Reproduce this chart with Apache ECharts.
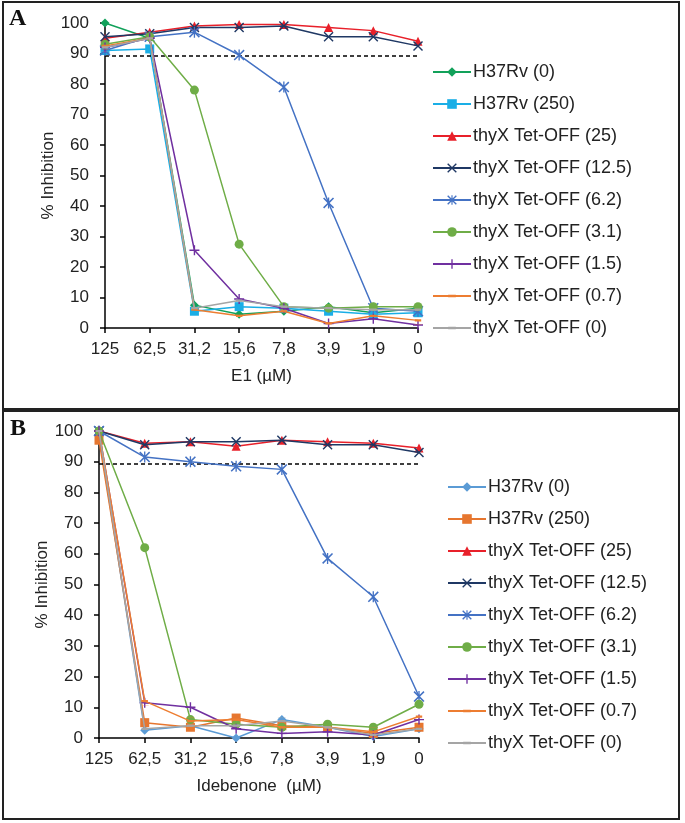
<!DOCTYPE html>
<html><head><meta charset="utf-8">
<script src="https://cdn.jsdelivr.net/npm/echarts@6/dist/echarts.min.js"></script>
<style>
html,body{margin:0;padding:0;background:#fff;width:685px;height:823px;overflow:hidden}
#a{position:absolute;left:0;top:0;width:685px;height:410px}
#b{position:absolute;left:0;top:410px;width:685px;height:413px}
</style></head><body><div id="a"></div><div id="b"></div>
<script>
// ---------- DATA ----------
const categories = ['125', '62,5', '31,2', '15,6', '7,8', '3,9', '1,9', '0'];
const yTicks = [0, 10, 20, 30, 40, 50, 60, 70, 80, 90, 100];
const seriesNames = ['H37Rv (0)', 'H37Rv (250)', 'thyX Tet-OFF (25)', 'thyX Tet-OFF (12.5)',
  'thyX Tet-OFF (6.2)', 'thyX Tet-OFF (3.1)', 'thyX Tet-OFF (1.5)', 'thyX Tet-OFF (0.7)', 'thyX Tet-OFF (0)'];
const thresholdA = 89.3;
const thresholdB = 89.3;

// Panel A : E1 (µM)
const A_h37rv_0    = [100, 95, 7.5, 4.5, 5.5, 7, 5, 6.5];
const A_h37rv_250  = [91, 91.5, 5.5, 7, 6.5, 5.5, 4.5, 5];
const A_tet_25     = [95, 97, 99, 99.5, 99.5, 98.5, 97.5, 94];
const A_tet_12_5   = [95.5, 96.5, 98.5, 98.5, 99, 95.5, 95.5, 92.5];
const A_tet_6_2    = [91, 95.5, 97, 89.5, 79, 41, 6.5, 5.5];
const A_tet_3_1    = [93, 95.5, 78, 27.5, 7, 6.5, 7, 7];
const A_tet_1_5    = [92, 95, 25.5, 9.5, 6.5, 1.5, 3, 1];
const A_tet_0_7    = [92.5, 95, 6, 4, 5.5, 1.5, 4, 2.5];
const A_tet_0      = [92, 95, 6.5, 9, 7, 6.5, 6, 6];

// Panel B : Idebenone (µM)
const B_h37rv_0    = [99, 2.5, 4, 0, 6, 3.5, 0.5, 3];
const B_h37rv_250  = [97, 5, 3.5, 6.5, 4, 3.5, 1.5, 3.5];
const B_tet_25     = [100, 96, 96.5, 95, 97, 96.5, 96, 94.5];
const B_tet_12_5   = [100, 95.5, 96.5, 96.5, 97, 95.5, 95.5, 93];
const B_tet_6_2    = [100, 91.5, 90, 88.5, 87.5, 58.5, 46, 13.5];
const B_tet_3_1    = [100, 62, 6, 4.5, 3.5, 4.5, 3.5, 11];
const B_tet_1_5    = [100, 11.5, 10, 3, 1.5, 2, 1, 6];
const B_tet_0_7    = [100, 12, 5.5, 6, 3.5, 3.5, 2, 7];
const B_tet_0      = [100, 3, 4, 4, 5.5, 3.5, 1, 3];

// ---------- STYLE ----------
const SYM = {
  x: 'path://M0,1L1,0L5,4L9,0L10,1L6,5L10,9L9,10L5,6L1,10L0,9L4,5Z',
  star: 'path://M0,1L1,0L5,4L9,0L10,1L6,5L10,9L9,10L5,6L1,10L0,9L4,5Z M4.4,0L5.6,0L5.6,10L4.4,10Z',
  plus: 'path://M4.3,0H5.7V4.3H10V5.7H5.7V10H4.3V5.7H0V4.3H4.3Z',
  dash: 'path://M0,0H10V0.05H0Z M1,3.6H9V6.4H1Z M0,9.95H10V10H0Z'
};
const symbols = ['diamond', 'rect', 'triangle', SYM.x, SYM.star, 'circle', SYM.plus, SYM.dash, SYM.dash];
const symSizes = [9, 9, 9, 10, 11, 9, 10, 8, 8];
const colorsA = ['#12A15A', '#1AAEE6', '#E8202A', '#1F3864', '#4472C4', '#6FAD47', '#7030A0', '#ED7D31', '#A5A5A5'];
const colorsB = ['#5B9BD5', '#E6762F', '#E8202A', '#1F3864', '#4472C4', '#6FAD47', '#7030A0', '#ED7D31', '#A5A5A5'];
const FONT = '"Liberation Sans", Arial, sans-serif';

function build(el, cfg) {
  const chart = echarts.init(el, null, {renderer: 'canvas'});
  const series = cfg.data.map((d, i) => ({
    name: seriesNames[i], type: 'line', data: d,
    symbol: symbols[i], symbolSize: symSizes[i],
    itemStyle: {color: cfg.colors[i]},
    lineStyle: {color: cfg.colors[i], width: 1.5},
    emphasis: {disabled: true}, animation: false, z: 2 + i,
    markLine: i === 0 ? {
      silent: true, symbol: 'none', label: {show: false}, animation: false,
      lineStyle: {color: '#000', type: [4, 3], width: 1.5},
      data: [{yAxis: cfg.threshold}]
    } : undefined
  }));
  chart.setOption({
    animation: false,
    backgroundColor: '#fff',
    graphic: [
      {type: 'rect', shape: cfg.frame, style: {fill: 'none', stroke: '#222', lineWidth: 2}},
      {type: 'text', left: cfg.letterPos[0], top: cfg.letterPos[1],
       style: {text: cfg.letter, font: 'bold 24px "Liberation Serif", "Times New Roman", serif', fill: '#111'}}
    ],
    grid: {left: cfg.grid[0], top: cfg.grid[1], width: cfg.grid[2], height: cfg.grid[3], containLabel: false},
    legend: {
      orient: 'vertical', left: cfg.legendPos[0], top: cfg.legendPos[1], padding: 0,
      itemWidth: 38, itemHeight: 12, itemGap: 14,
      textStyle: {fontFamily: FONT, fontSize: 18, color: '#222', padding: [0, 0, 0, -3]},
      data: seriesNames
    },
    xAxis: {
      type: 'category', data: categories, boundaryGap: false,
      name: cfg.xName, nameLocation: 'middle', nameGap: 40,
      nameTextStyle: {fontFamily: FONT, fontSize: 17, color: '#222'},
      axisLine: {lineStyle: {color: '#000', width: 1.5}},
      axisTick: {show: true, length: 5, lineStyle: {color: '#000', width: 1.5}},
      axisLabel: {fontFamily: FONT, fontSize: 17, color: '#222', margin: 13},
      splitLine: {show: false}
    },
    yAxis: {
      type: 'value', min: yTicks[0], max: yTicks[yTicks.length - 1], interval: yTicks[1] - yTicks[0],
      name: '% Inhibition', nameLocation: 'middle', nameGap: 48,
      nameTextStyle: {fontFamily: FONT, fontSize: 17, color: '#222'},
      axisLine: {show: true, lineStyle: {color: '#000', width: 1.5}},
      axisTick: {show: true, length: 5, lineStyle: {color: '#000', width: 1.5}},
      axisLabel: {fontFamily: FONT, fontSize: 17, color: '#222', margin: 16},
      splitLine: {show: false}
    },
    series: series
  });
}

build(document.getElementById('a'), {
  data: [A_h37rv_0, A_h37rv_250, A_tet_25, A_tet_12_5, A_tet_6_2, A_tet_3_1, A_tet_1_5, A_tet_0_7, A_tet_0],
  colors: colorsA, threshold: thresholdA,
  frame: {x: 3, y: 2, width: 676, height: 407},
  letter: 'A', letterPos: [9, 7],
  grid: [105, 23, 313, 305],
  legendPos: [432, 63],
  xName: 'E1 (µM)'
});
build(document.getElementById('b'), {
  data: [B_h37rv_0, B_h37rv_250, B_tet_25, B_tet_12_5, B_tet_6_2, B_tet_3_1, B_tet_1_5, B_tet_0_7, B_tet_0],
  colors: colorsB, threshold: thresholdB,
  frame: {x: 3, y: 1, width: 676, height: 408},
  letter: 'B', letterPos: [10, 7],
  grid: [99, 21, 320, 307],
  legendPos: [447, 68],
  xName: 'Idebenone  (µM)'
});
</script></body></html>
